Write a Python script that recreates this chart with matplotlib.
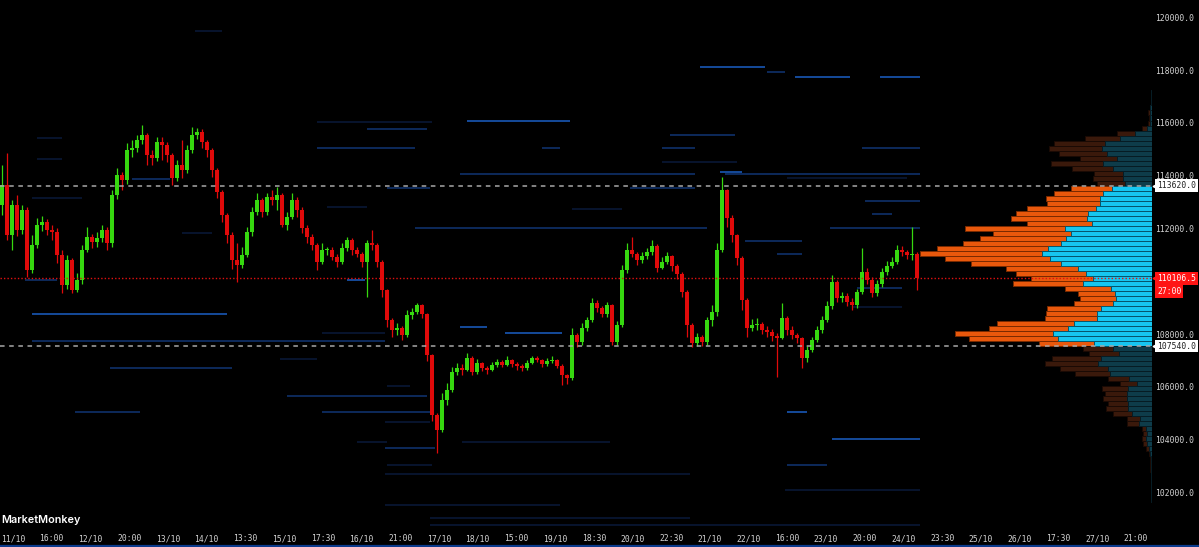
import numpy as np
import matplotlib
matplotlib.use("Agg")
import matplotlib.pyplot as plt
from matplotlib.transforms import blended_transform_factory
from matplotlib.lines import Line2D

plt.rcParams['font.family'] = ['DejaVu Sans Mono']

# ---- candles (one bar per step, open = previous close) ----
first_open = 112900
closes = [
    113650, 111750, 112890, 111940, 112700, 110430, 111370, 112130, 112240, 111940,
    111870, 110990, 109860, 110800, 109670, 110050, 111180, 111680, 111490, 111640,
    111940, 111450, 113270, 114030, 113840, 114970, 115050, 115350, 115540, 114780,
    114670, 115280, 115160, 114780, 113910, 114400, 114210, 114970, 115540, 115650,
    115280, 114970, 114210, 113380, 112510, 111750, 110800, 110620, 110990, 111870,
    112620, 113080, 112620, 113190, 113080, 113270, 112130, 112430, 113080, 112700,
    112020, 111680, 111370, 110730, 111180, 111180, 110920, 110730, 111260, 111560,
    111180, 111030, 110730, 111450, 111370, 110730, 109670, 108530, 108150, 108230,
    107960, 108720, 108830, 109100, 108760, 107210, 104930, 104360, 105500, 105880,
    106560, 106710, 106640, 107090, 106560, 106900, 106710, 106640, 106830, 106940,
    106830, 107020, 106860, 106790, 106710, 106900, 107090, 107020, 106860, 106980,
    107020, 106790, 106450, 106330, 107960, 107700, 108230, 108530, 109180, 108990,
    108760, 109100, 107700, 108340, 110430, 111180, 111030, 110800, 110960, 111110,
    111340, 110500, 110730, 110960, 110580, 110270, 109590, 108340, 107660, 107890,
    107700, 108530, 108830, 111180, 113460, 112400, 111750, 110880, 109290, 108230,
    108340, 108380, 108150, 108080, 107930, 107850, 108610, 108150, 107960, 107850,
    107090, 107400, 107770, 108150, 108530, 109060, 109970, 109360, 109440, 109210,
    109100, 109590, 110350, 110050, 109550, 109900, 110350, 110580, 110730, 111180,
    111110, 110990, 111030, 110106.5,
]
highs = [
    114400, 114860, 113080, 113270, 112890, 112800, 111750, 112400, 112470, 112350,
    112130, 112000, 111180, 110990, 110880, 110300, 111370, 112050, 111800, 111880,
    112130, 112050, 113460, 114290, 114150, 115240, 115350, 115540, 115920, 115620,
    114970, 115460, 115450, 115280, 114850, 114600, 115350, 115150, 115840, 115810,
    115750, 115350, 115050, 114300, 113450, 112600, 111850, 111450, 111300, 112050,
    112810, 113340, 113150, 113340, 113460, 113570, 113350, 112620, 113340, 113200,
    112800, 112130, 111800, 111450, 111450, 111300, 111300, 111050, 111450, 111680,
    111650, 111300, 111100, 111560, 111940, 111450, 110800, 109700, 108600, 108420,
    108300, 108910, 109000, 109180, 109150, 108800, 107250, 105000, 105770, 106150,
    106750, 106900, 106850, 107280, 107150, 107050, 106950, 106800, 106950, 107050,
    107000, 107150, 107050, 106950, 106850, 107000, 107180, 107150, 107050, 107100,
    107150, 107050, 106850, 106500, 108230, 108050, 108420, 108650, 109370, 109300,
    109050, 109200, 109150, 108500, 110600, 111450, 111680, 111100, 111100, 111250,
    111560, 111400, 110900, 111100, 111000, 110650, 110350, 109650, 108400, 108050,
    107950, 108650, 109100, 111450, 113950, 113500, 112500, 111800, 110950, 109350,
    108550, 108600, 108450, 108300, 108200, 108050, 109180, 108700, 108300, 108050,
    107900, 107550, 107900, 108300, 108700, 109250, 110240, 110050, 109600, 109550,
    109350, 109700, 111260, 110500, 110150, 110050, 110500, 110750, 110900, 111370,
    111350, 111200, 112050, 111100,
]
lows = [
    112500, 111560, 111180, 111700, 111800, 110160, 110300, 111250, 111900, 111750,
    111560, 110700, 109560, 109700, 109560, 109600, 109900, 111100, 111260, 111300,
    111500, 111180, 111300, 113100, 113460, 113700, 114700, 114900, 115200, 114400,
    114400, 114550, 114590, 114500, 113650, 113800, 113900, 114100, 114850, 115400,
    115050, 114700, 113950, 113150, 112250, 111450, 110450, 109970, 110500, 110900,
    111700, 112500, 112430, 112500, 112900, 112700, 112050, 111950, 112350, 112430,
    111830, 111450, 111180, 110430, 110650, 111000, 110800, 110540, 110650, 111150,
    111000, 110920, 110540, 109420, 111200, 110540, 109400, 108270, 107890, 107950,
    107770, 107900, 108550, 108750, 108600, 106970, 104700, 103490, 104300, 105300,
    105800, 106450, 106450, 106600, 106450, 106500, 106600, 106500, 106600, 106750,
    106750, 106800, 106750, 106650, 106600, 106650, 106850, 106950, 106750, 106800,
    106900, 106700, 106070, 106100, 106250, 107500, 107600, 108100, 108450, 108850,
    108650, 108650, 107580, 107600, 108250, 110300, 110900, 110600, 110700, 110850,
    111000, 110350, 110450, 110650, 110400, 110100, 109400, 107890, 107510, 107550,
    107550, 107600, 108300, 108700, 111100, 112050, 111500, 110600, 108900, 107900,
    108100, 108150, 108000, 107900, 107750, 106370, 107800, 107950, 107800, 107650,
    106710, 106950, 107300, 107700, 108050, 108450, 108950, 109200, 109200, 109050,
    108900, 109000, 109500, 109900, 109400, 109450, 109800, 110250, 110500, 110650,
    110950, 110850, 110800, 109650,
]

tick_labels = ['11/10', '16:00', '12/10', '20:00', '13/10', '14/10', '13:30', '15/10',
               '17:30', '16/10', '21:00', '17/10', '18/10', '15:00', '19/10', '18:30',
               '20/10', '22:30', '21/10', '22/10', '16:00', '23/10', '20:00', '24/10',
               '23:30', '25/10', '26/10', '17:30', '27/10', '21:00']
# 110000 is hidden under the last-price label in the original
price_ticks = [102000, 104000, 106000, 108000, 112000, 114000, 116000, 118000, 120000]

vah = 113620.0
val = 107540.0
countdown = '27:00'

# ---- volume profile, rows from the top down ----
vp_top = 117230
vp_step = 190
vp_total = [1, 1, 1, 2, 4, 3, 4, 10, 35, 67, 98, 103, 93, 72, 101, 80, 58, 59, 55,
            81, 98, 106, 105, 125, 136, 141, 125, 187, 159, 172, 189, 215, 232, 207, 181,
            146, 136, 121, 139, 87, 74, 72, 78, 105, 106, 107, 155, 163, 197, 183, 113,
            69, 63, 100, 107, 92, 77, 44, 32, 50, 47, 49, 44, 46, 39, 25, 25, 10, 9, 10, 9,
            6, 3, 2, 2, 2, 1, 1, 1, 1, 1, 1]
vp_buy = [1, 1, 1, 2, 2, 2, 2, 5, 17, 32, 47, 50, 45, 35, 49, 39, 29, 29, 27,
          40, 49, 52, 52, 56, 64, 65, 60, 87, 81, 86, 91, 104, 110, 102, 91,
          74, 66, 59, 69, 41, 37, 36, 39, 51, 55, 55, 78, 84, 99, 94, 58,
          39, 33, 51, 54, 44, 42, 23, 15, 24, 25, 25, 24, 24, 20, 12, 13, 6, 5, 6, 5,
          3, 2, 1, 1, 1, 1, 1, 1, 1, 1, 1]

# ---- resting liquidity levels (price, first bar, last bar, strength) ----
lvl_price = [119480, 118120, 117930, 117740, 117740, 116070, 116030, 115770, 115540, 115430,
             115050, 115050, 115050, 115050, 114630, 114520, 114140, 114060, 114060, 113910,
             113870, 113530, 113530, 113150, 113040, 112810, 112740, 112550, 112020, 112020,
             111830, 111530, 111030, 110050, 110050, 109740, 109020, 108760, 108270, 108040,
             108040, 107740, 107050, 106710, 106030, 105650, 105050, 105050, 105050, 104670,
             104020, 103910, 103910, 103680, 103040, 103040, 102700, 102090, 101520, 101030,
             100770]
lvl_start = [38.5, 139.5, 153, 158.5, 175.5, 93, 63, 73, 133.5, 7,
             63, 108, 132, 172, 7, 132, 143.5, 91.5, 144.5, 157,
             26, 77, 125.5, 6, 172.5, 65, 114, 174, 82.5, 165.5,
             36, 148.5, 155, 4.5, 69, 171, 170, 6, 91.5, 100.5,
             64, 6, 55.5, 21.5, 77, 57, 14.5, 64, 157, 76.5,
             166, 71, 92, 76.5, 77, 157, 76.5, 156.5, 76.5, 85.5,
             85.5]
lvl_end = [44, 152.5, 156.5, 169.5, 183.5, 113.5, 86, 85, 146.5, 12,
           82.5, 111.5, 138.5, 183.5, 12, 147, 148, 138.5, 183.5, 181,
           33.5, 85.5, 138.5, 16, 183.5, 73, 124, 178, 141, 183.5,
           42, 160, 160, 11, 72.5, 180, 180, 45, 97, 112,
           76.5, 76.5, 63, 46, 81.5, 85, 27.5, 85.5, 161, 85.5,
           183.5, 77, 121.5, 86.5, 86, 165, 137.5, 183.5, 111.5, 137.5,
           183.5]
lvl_strength = [0, 2, 1, 2, 2, 2, 0, 1, 1, 0,
                1, 1, 1, 1, 0, 0, 2, 1, 1, 0,
                1, 1, 1, 0, 1, 0, 0, 1, 1, 1,
                0, 1, 1, 1, 2, 1, 0, 2, 2, 2,
                0, 1, 0, 1, 0, 1, 1, 1, 2, 0,
                2, 0, 0, 1, 0, 1, 0, 0, 0, 0,
                0]

fig = plt.figure(figsize=(11.99, 5.47), dpi=100, facecolor='black')
rect = [0, 17 / 547, 1152 / 1199, 530 / 547]
ax = fig.add_axes(rect, facecolor='black')
ax.set_xlim(-0.4, 230)
ax.set_ylim(100574, 120656)
for s in ax.spines.values():
    s.set_visible(False)

# liquidity levels
lvl_colors = np.array(['#091838', '#10336f', '#1a5bbd'])
ax.hlines(lvl_price, lvl_start, lvl_end, colors=lvl_colors[lvl_strength], lw=1.15, zorder=1)

# candles
c = np.array(closes, dtype=float)
o = np.array([first_open] + closes[:-1], dtype=float)
x = np.arange(len(c))
col = np.where(c >= o, '#36d80f', '#e00a0a')
ax.vlines(x, lows, highs, colors=col, lw=0.9, zorder=3)
ax.bar(x, np.maximum(np.abs(c - o), 30), bottom=np.minimum(c, o), width=0.62,
       color=col, lw=0, zorder=3)

# axis ticks
ax.yaxis.tick_right()
ax.set_yticks(price_ticks)
ax.set_yticklabels([f'{p:.1f}' for p in price_ticks])
ax.set_xticks(2.2 + 7.744 * np.arange(len(tick_labels)))
ax.set_xticklabels(tick_labels)
ax.tick_params(axis='both', length=0, labelsize=5.8, labelcolor='#d4d4d4')
ax.tick_params(axis='y', pad=2.5)
ax.tick_params(axis='x', pad=3)

# volume profile on an overlaid axes, bars growing leftwards from the right edge
ax_vp = fig.add_axes(rect, sharey=ax, facecolor='none')
ax_vp.set_xlim(1152, 0)
ax_vp.axis('off')
centers = vp_top - vp_step * (np.arange(len(vp_total)) + 0.5)
in_va = (centers < vah) & (centers > val)
ax_vp.barh(centers, vp_total, height=vp_step,
           color=np.where(in_va, '#e8580c', '#3a190b'),
           edgecolor=np.where(in_va, '#7a2a00', '#1a0a04'), lw=0.7)
ax_vp.barh(centers, vp_buy, height=vp_step,
           color=np.where(in_va, '#16c6f0', '#0e3c4a'),
           edgecolor=np.where(in_va, '#06556b', '#061c24'), lw=0.7)

ax_vp.axhline(vah, color='#a8a8a8', ls=(0, (3, 3)), lw=1.1)
ax_vp.axhline(val, color='#a8a8a8', ls=(0, (3, 3)), lw=1.1)
ax_vp.axhline(closes[-1], color='#e01010', ls=(0, (1, 1.5)), lw=1.0)

# price labels at the right edge
trans = blended_transform_factory(ax.transAxes, ax.transData)
for p, fc, tc in [(vah, 'white', '#202020'), (val, 'white', '#202020'),
                  (closes[-1], '#ff1414', 'white')]:
    ax.text(1.0045, p, f'{p:.1f}', transform=trans, ha='left', va='center',
            fontsize=5.8, color=tc, clip_on=False, zorder=10,
            bbox=dict(boxstyle='square,pad=0.22', fc=fc, ec='none'))
    ax.plot([1.0025], [p], marker='<', ms=3.5, color=fc, transform=trans,
            clip_on=False, zorder=10)
ax.annotate(countdown, xy=(1.0045, closes[-1]), xycoords=trans, xytext=(0, -9.4),
            textcoords='offset points', ha='left', va='center', fontsize=5.8,
            color='white', annotation_clip=False, zorder=10,
            bbox=dict(boxstyle='square,pad=0.22', fc='#ff1414', ec='none'))

fig.text(0.001, 27 / 547, 'MarketMonkey', family=['Inter', 'DejaVu Sans'],
         fontweight='semibold', fontsize=7.8, color='white', ha='left', va='center')
fig.add_artist(Line2D([0, 1], [1.2 / 547, 1.2 / 547], color='#0b3a8c', lw=1.6))

fig.savefig('out.png', dpi=100, facecolor='black')
